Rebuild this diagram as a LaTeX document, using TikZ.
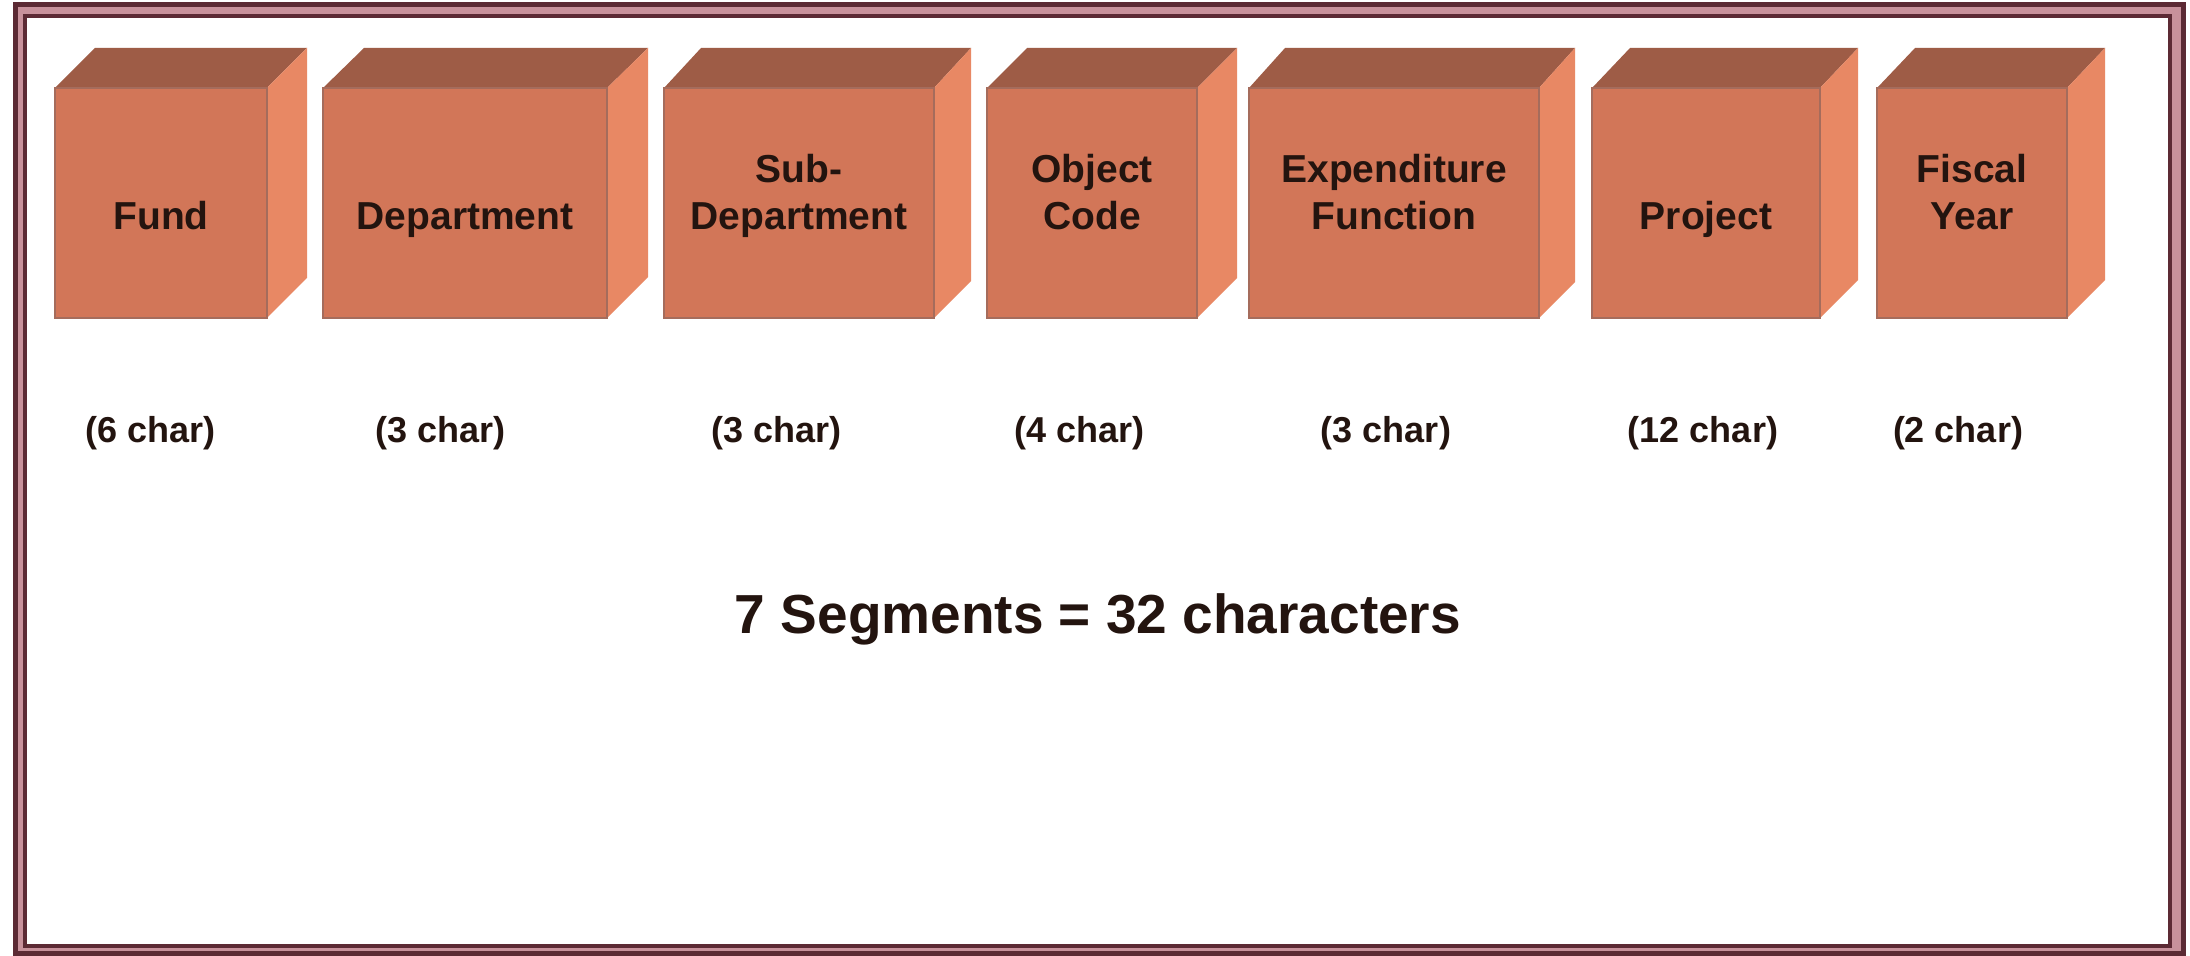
\documentclass[tikz,border=0pt]{standalone}
\usepackage{fontspec}
\setmainfont{Liberation Sans}
\definecolor{topc}{RGB}{158,92,70}
\definecolor{frontc}{RGB}{210,118,88}
\definecolor{sidec}{RGB}{232,136,100}
\definecolor{edgec}{RGB}{165,108,92}
\definecolor{textc}{RGB}{35,20,15}
\definecolor{framec}{RGB}{92,42,52}
\definecolor{bandc}{RGB}{200,145,155}
\newcommand\twolines[2]{\begin{tabular}[b]{@{}c@{}}#1\\#2\end{tabular}}
% #1 name, #2 front left x, #3 front right x, #4 depth
\newcommand\segcube[4]{%
  \fill[topc] (#2,88) -- (#2+#4,48) -- (#3+#4,48) -- (#3,88) -- cycle;
  \fill[sidec] (#3,88) -- (#3+#4,48) -- (#3+#4,318-#4) -- (#3,318) -- cycle;
  \node[frontface, anchor=north west, minimum width={(#3-#2)*0.5pt}, minimum height={230*0.5pt}] (#1) at (#2,88) {};
}
\begin{document}
\begin{tikzpicture}[x=0.5pt,y=-0.5pt,
  frontface/.style={fill=frontc, draw=edgec, line width=1pt, inner sep=0pt, outer sep=0pt},
  boxlabel/.style={font=\fontsize{19.5}{23.5}\selectfont\bfseries, text=textc, inner sep=0pt, anchor=base},
  charlabel/.style={font=\fontsize{18}{20}\selectfont\bfseries, text=textc, inner sep=0pt, anchor=base},
  totallabel/.style={font=\fontsize{27.5}{30}\selectfont\bfseries, text=textc, inner sep=0pt, anchor=base}]
\useasboundingbox (0,0) rectangle (2190,956);
\fill[white] (0,0) rectangle (2190,956);
% frame
\fill[bandc] (15,5) rectangle (2183,953);
\draw[framec, line width=2.5pt] (15,5) rectangle (2183,953);
\fill[white] (25,16) rectangle (2170,946);
\draw[framec, line width=2pt] (25,16) rectangle (2170,946);
% cubes
\segcube{fund}{55}{267}{40}
\segcube{dept}{323}{607}{41}
\segcube{subdept}{664}{934}{37}
\segcube{obj}{987}{1197}{40}
\segcube{expfn}{1249}{1539}{36}
\segcube{proj}{1592}{1820}{38}
\segcube{fy}{1877}{2067}{38}
% labels on cubes
\node[boxlabel] (fundl) at (161,230) {Fund};
\node[boxlabel] (deptl) at (465,230) {Department};
\node[boxlabel] (subdeptl) at (799,230) {\twolines{Sub-}{Department}};
\node[boxlabel] (objl) at (1092,230) {\twolines{Object}{Code}};
\node[boxlabel] (expfnl) at (1394,230) {\twolines{Expenditure}{Function}};
\node[boxlabel] (projl) at (1706,230) {Project};
\node[boxlabel] (fyl) at (1972,230) {\twolines{Fiscal}{Year}};
% character counts
\node[charlabel] (c1) at (151,443) {(6 char)};
\node[charlabel] (c2) at (441,443) {(3 char)};
\node[charlabel] (c3) at (777,443) {(3 char)};
\node[charlabel] (c4) at (1080,443) {(4 char)};
\node[charlabel] (c5) at (1386,443) {(3 char)};
\node[charlabel] (c6) at (1703,443) {(12 char)};
\node[charlabel] (c7) at (1958,443) {(2 char)};
% total
\node[totallabel] (total) at (1098,633) {7 Segments = 32 characters};
\end{tikzpicture}
\end{document}
